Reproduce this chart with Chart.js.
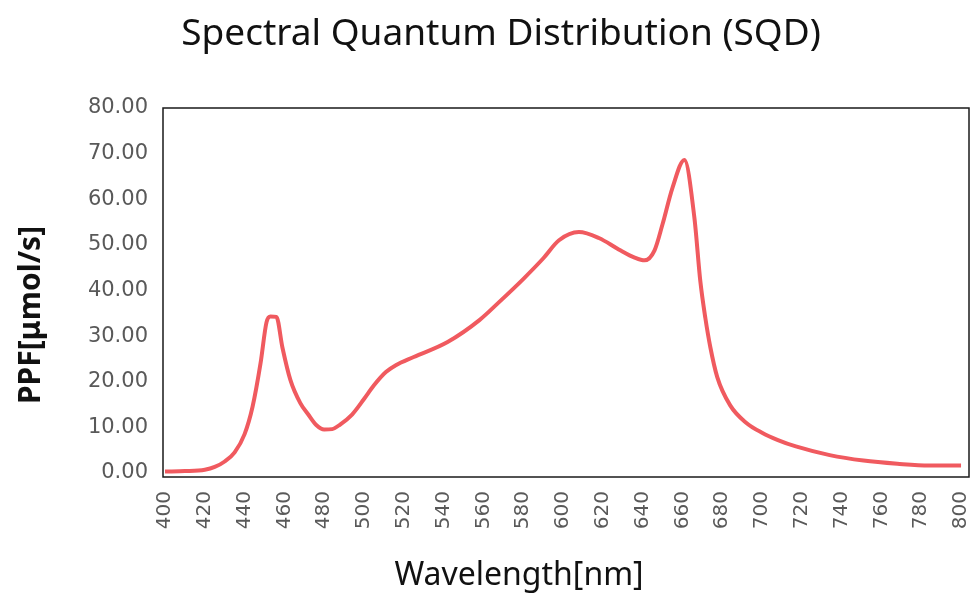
<!DOCTYPE html>
<html>
<head>
<meta charset="utf-8">
<script src="https://cdn.jsdelivr.net/npm/chart.js@4.4.0/dist/chart.umd.min.js"></script>
<style>
  html, body { margin: 0; padding: 0; background: #fff; }
  #wrap { width: 978px; height: 595px; }
</style>
</head>
<body>
<div id="wrap"><canvas id="sqd"></canvas></div>
<script>
// data ------------------------------------------------------------------
let wavelengths = [400, 410, 420, 425, 430, 435, 440, 444, 448, 451, 453, 456, 459, 463, 468, 472, 476, 480, 484, 488, 494, 500, 505, 511, 516, 525, 542, 558, 568, 580, 590, 598, 608, 618, 628, 636, 641, 646, 650, 655, 661, 666, 669, 671.5, 674, 677.5, 684, 692, 700, 708, 717, 734, 751, 768, 784, 800];
let ppf = [0.3, 0.4, 0.7, 1.3, 2.5, 4.5, 8.5, 14.5, 24, 33, 34.3, 34.2, 27.5, 20.4, 15.3, 12.8, 10.5, 9.5, 9.6, 10.6, 12.8, 16.2, 19.2, 22.1, 23.6, 25.4, 28.7, 33.5, 37.5, 42.5, 47, 51, 52.8, 51.5, 49, 47.2, 46.6, 48.8, 54.5, 62.5, 68.6, 56, 42, 34, 27.6, 21, 14.8, 11, 8.8, 7.2, 5.8, 3.9, 2.7, 2.0, 1.6, 1.6];
let xTicks = [400, 420, 440, 460, 480, 500, 520, 540, 560, 580, 600, 620, 640, 660, 680, 700, 720, 740, 760, 780, 800];
let yTicks = [0, 10, 20, 30, 40, 50, 60, 70, 80];

let points = wavelengths.map((w, i) => ({ x: w, y: ppf[i] }));


// frame round the plot + titles ------------------------------------------
const frameAndTitles = {
    id: 'frameAndTitles',
    afterDraw(chart) {
        const ctx = chart.ctx;
        const a = chart.chartArea;
        ctx.save();
        ctx.strokeStyle = '#1a1a1a';
        ctx.lineWidth = 1.5;
        ctx.strokeRect(a.left, a.top, a.right - a.left, a.bottom - a.top);

        ctx.fillStyle = '#111';
        ctx.textAlign = 'center';
        ctx.textBaseline = 'middle';
        ctx.font = 'normal 37px "Noto Sans"';
        ctx.fillText('Spectral Quantum Distribution (SQD)', 501, 34);

        ctx.font = 'normal 32px "Noto Sans"';
        ctx.fillText('Wavelength[nm]', 519, 576);

        ctx.translate(31, 315);
        ctx.rotate(-Math.PI / 2);
        ctx.font = 'bold 30px "Noto Sans"';
        ctx.fillText('PPF[μmol/s]', 0, 0);
        ctx.restore();
    }
};


new Chart(document.getElementById('sqd'), {
    type: 'line',
    data: {
        datasets: [{
            data: points,
            borderColor: '#F05A5F',
            borderWidth: 4,
            pointRadius: 0,
            fill: false,
            cubicInterpolationMode: 'monotone'
        }]
    },
    options: {
        responsive: true,
        maintainAspectRatio: false,
        animation: false,
        layout: { padding: { left: 0, right: 9, top: 108, bottom: 0 } },
        plugins: {
            legend: { display: false },
            tooltip: { enabled: false },
            title: { display: false }
        },
        scales: {
            x: {
                type: 'linear',
                min: 399,
                max: 804,
                afterBuildTicks: (scale) => { scale.ticks = xTicks.map(v => ({ value: v })); },
                afterFit: (scale) => {
                    scale.height = 118;
                    scale.paddingLeft = 0;
                    scale.paddingRight = 0;
                },
                grid: { display: false, drawTicks: false },
                border: { display: false },
                ticks: {
                    minRotation: 90,
                    maxRotation: 90,
                    padding: 14,
                    color: '#595959',
                    font: { family: '"DejaVu Sans"', size: 20 }
                }
            },
            y: {
                min: -0.9,
                max: 80,
                afterBuildTicks: (scale) => { scale.ticks = yTicks.map(v => ({ value: v })); },
                afterFit: (scale) => {
                    scale.width = 163;
                    scale.paddingTop = 0;
                    scale.paddingBottom = 0;
                },
                grid: { display: false, drawTicks: false },
                border: { display: false },
                ticks: {
                    padding: 15,
                    color: '#595959',
                    font: { family: '"DejaVu Sans"', size: 21 },
                    callback: (v) => Number(v).toFixed(2)
                }
            }
        }
    },
    plugins: [frameAndTitles]
});
</script>
</body>
</html>
